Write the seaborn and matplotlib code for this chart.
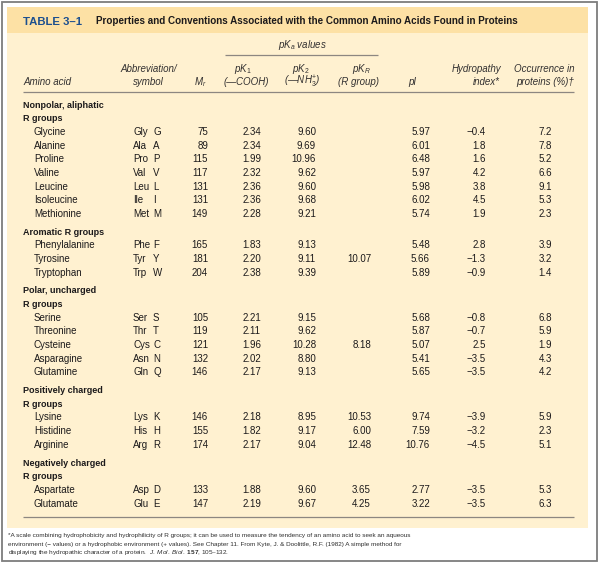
import numpy as np
import pandas as pd
import matplotlib
matplotlib.use("Agg")
import matplotlib.pyplot as plt
from matplotlib import font_manager
from matplotlib.patches import Rectangle
import seaborn as sns

# ---- table content ----
group_labels = ["Nonpolar, aliphatic\nR groups", "Aromatic R groups",
                "Polar, uncharged\nR groups", "Positively charged\nR groups",
                "Negatively charged\nR groups"]
group_sizes = [7, 3, 5, 3, 2]
amino_acids = ["Glycine", "Alanine", "Proline", "Valine", "Leucine", "Isoleucine", "Methionine",
               "Phenylalanine", "Tyrosine", "Tryptophan",
               "Serine", "Threonine", "Cysteine", "Asparagine", "Glutamine",
               "Lysine", "Histidine", "Arginine",
               "Aspartate", "Glutamate"]
abbrev3 = ["Gly", "Ala", "Pro", "Val", "Leu", "Ile", "Met", "Phe", "Tyr", "Trp",
           "Ser", "Thr", "Cys", "Asn", "Gln", "Lys", "His", "Arg", "Asp", "Glu"]
abbrev1 = ["G", "A", "P", "V", "L", "I", "M", "F", "Y", "W",
           "S", "T", "C", "N", "Q", "K", "H", "R", "D", "E"]
mr = [75, 89, 115, 117, 131, 131, 149, 165, 181, 204,
      105, 119, 121, 132, 146, 146, 155, 174, 133, 147]
pk1 = [2.34, 2.34, 1.99, 2.32, 2.36, 2.36, 2.28, 1.83, 2.20, 2.38,
       2.21, 2.11, 1.96, 2.02, 2.17, 2.18, 1.82, 2.17, 1.88, 2.19]
pk2 = [9.60, 9.69, 10.96, 9.62, 9.60, 9.68, 9.21, 9.13, 9.11, 9.39,
       9.15, 9.62, 10.28, 8.80, 9.13, 8.95, 9.17, 9.04, 9.60, 9.67]
pkr = [np.nan, np.nan, np.nan, np.nan, np.nan, np.nan, np.nan, np.nan, 10.07, np.nan,
       np.nan, np.nan, 8.18, np.nan, np.nan, 10.53, 6.00, 12.48, 3.65, 4.25]
pi = [5.97, 6.01, 6.48, 5.97, 5.98, 6.02, 5.74, 5.48, 5.66, 5.89,
      5.68, 5.87, 5.07, 5.41, 5.65, 9.74, 7.59, 10.76, 2.77, 3.22]
hydropathy = [-0.4, 1.8, 1.6, 4.2, 3.8, 4.5, 1.9, 2.8, -1.3, -0.9,
              -0.8, -0.7, 2.5, -3.5, -3.5, -3.9, -3.2, -4.5, -3.5, -3.5]
occurrence = [7.2, 7.8, 5.2, 6.6, 9.1, 5.3, 2.3, 3.9, 3.2, 1.4,
              6.8, 5.9, 1.9, 4.3, 4.2, 5.9, 2.3, 5.1, 5.3, 6.3]

title_tag = "TABLE 3–1"
title_text = "Properties and Conventions Associated with the Common Amino Acids Found in Proteins"
footnotes = [
    "*A scale combining hydrophobicity and hydrophilicity of R groups; it can be used to measure the tendency of an amino acid to seek an aqueous",
    "environment (− values) or a hydrophobic environment (+ values). See Chapter 11. From Kyte, J. & Doolittle, R.F. (1982) A simple method for",
    r"displaying the hydropathic character of a protein.  $\mathit{J.\ Mol.\ Biol.}$ $\mathbf{157}$, 105–132.",
]

df = pd.DataFrame({"name": amino_acids, "ab3": abbrev3, "ab1": abbrev1, "mr": mr,
                   "pk1": pk1, "pk2": pk2, "pkr": pkr, "pi": pi,
                   "hyd": hydropathy, "occ": occurrence})
df["group"] = np.repeat(np.arange(len(group_sizes)), group_sizes)

# ---- style ----
sns.set_theme(style="white")
names = {f.name for f in font_manager.fontManager.ttflist}
NARROW = "Liberation Sans Narrow" if "Liberation Sans Narrow" in names else "Liberation Sans"
NSCALE = 1.0 if NARROW == "Liberation Sans Narrow" else 0.84
plt.rcParams["font.family"] = ["Liberation Sans", "DejaVu Sans"]
plt.rcParams["mathtext.fontset"] = "custom"
plt.rcParams["mathtext.rm"] = "Liberation Sans"
plt.rcParams["mathtext.it"] = "Liberation Sans:italic"
plt.rcParams["mathtext.bf"] = "Liberation Sans:bold"

INK = "#1c1a1b"
RULE = "#8d8781"

fig = plt.figure(figsize=(6.0, 5.71), dpi=100)
ax = fig.add_axes([0, 0, 1, 1])
ax.set_xlim(0, 600)
ax.set_ylim(571, 0)
ax.axis("off")

# frame, panel and title band
ax.add_patch(Rectangle((2, 2), 595, 559, facecolor="white", edgecolor="#7d7d7d", lw=1.3))
ax.add_patch(Rectangle((7, 7), 581, 521, facecolor="#fff1d0", edgecolor="none"))
ax.add_patch(Rectangle((7, 7), 581, 26, facecolor="#fde1a5", edgecolor="none"))

ax.text(23, 25, title_tag, family=NARROW, weight="bold", size=9.8 * NSCALE,
        color="#1c4f8f", va="baseline")
ax.text(96, 24.5, title_text, family=NARROW, weight="bold", size=8.45 * NSCALE,
        color=INK, va="baseline")

# column headers
hdr = dict(style="italic", size=7, color="#333131", va="baseline")
ax.text(302, 48.5, r"$pK_a$ values", ha="center", **hdr)
ax.hlines(55, 225, 378, color=RULE, lw=0.9)
top, bot = 71.5, 85
ax.text(23, bot, "Amino acid", ha="left", **hdr)
ax.text(149, top, "Abbreviation/", ha="center", **hdr)
ax.text(148, bot, "symbol", ha="center", **hdr)
ax.text(200, bot, r"$M_r$", ha="center", **hdr)
ax.text(243, top, r"$pK_1$", ha="center", **hdr)
ax.text(246, bot, "(—COOH)", ha="center", **hdr)
ax.text(301, top, r"$pK_2$", ha="center", **hdr)
ax.text(302, bot, r"(—NH$_3^{+}$)", ha="center", **hdr)
ax.text(361, top, r"$pK_R$", ha="center", **hdr)
ax.text(359, bot, "(R group)", ha="center", **hdr)
ax.text(412, bot, "pI", ha="center", **hdr)
ax.text(501, top, "Hydropathy", ha="right", **hdr)
ax.text(500, bot, "index*", ha="right", **hdr)
ax.text(574, top, "Occurrence in", ha="right", **hdr)
ax.text(574, bot, "proteins (%)†", ha="right", **hdr)
ax.hlines(91.5, 23, 574, color=RULE, lw=0.9)

# body rows
y0, step, gap, base = 104, 13.68, 4.0, 3.5
num_cols = [("mr", 208, "{:.0f}"), ("pk1", 261, "{:.2f}"), ("pk2", 316, "{:.2f}"),
            ("pkr", 371, "{:.2f}"), ("pi", 430, "{:.2f}"), ("hyd", 486, "{:.1f}"),
            ("occ", 552, "{:.1f}")]
body = dict(size=7, color=INK, va="baseline")
line = 0
for g, label in enumerate(group_labels):
    for part in label.split("\n"):
        y = y0 + line * step + g * gap
        ax.text(23, y + base, part, family=NARROW, weight="bold",
                size=7.7 * NSCALE, color=INK, va="baseline")
        line += 1
    for _, row in df[df["group"] == g].iterrows():
        y = y0 + line * step + g * gap + base
        ax.text(34, y, row["name"], ha="left", **body)
        ax.text(133, y, row["ab3"], ha="left", **body)
        ax.text(153, y, row["ab1"], ha="left", **body)
        for col, x, fmt in num_cols:
            v = row[col]
            if pd.isna(v):
                continue
            ax.text(x, y, fmt.format(v).replace("-", "\u2212"), ha="right", **body)
        line += 1

ax.hlines(517, 23, 574, color=RULE, lw=0.9)

# footnote
for i, txt in enumerate(footnotes):
    ax.text(8, 537 + i * 8.6, txt, family=NARROW, size=5.45 * NSCALE,
            color="#2e2e2e", va="baseline")

fig.savefig("out.png", dpi=100)
